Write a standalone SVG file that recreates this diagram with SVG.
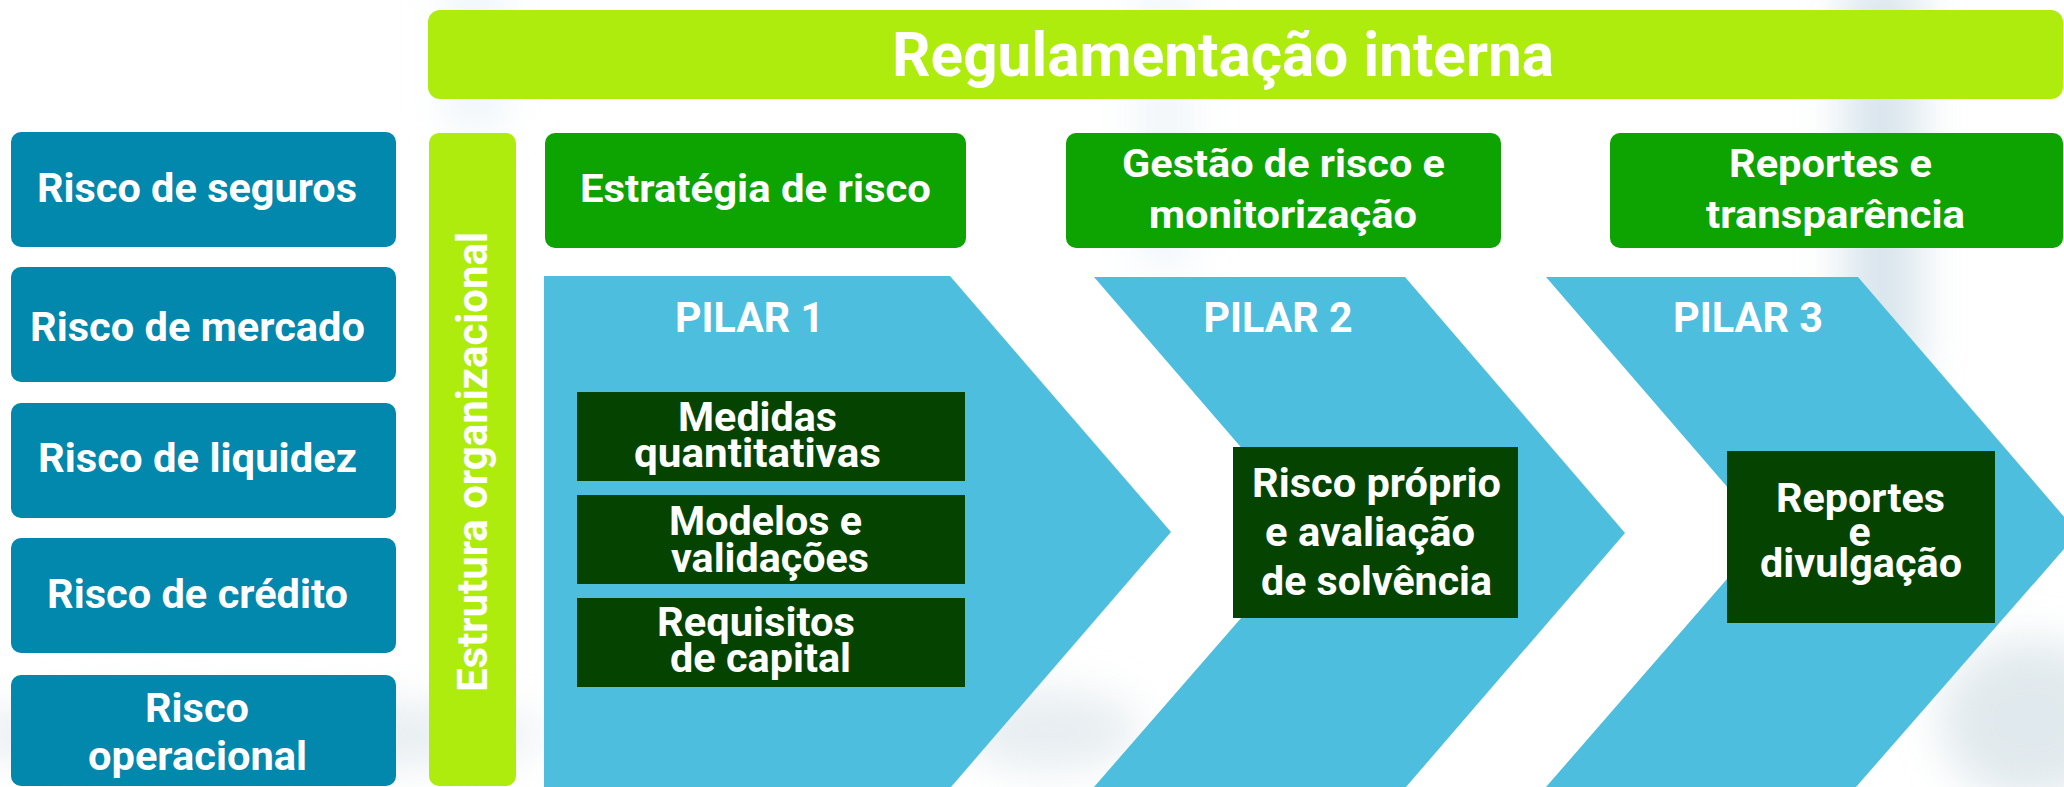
<svg xmlns="http://www.w3.org/2000/svg" width="2064" height="787" viewBox="0 0 2064 787">
  <defs>
    <filter id="blur" x="-50%" y="-50%" width="200%" height="200%">
      <feGaussianBlur stdDeviation="22"/>
    </filter>
    <style>
      text { font-family: Roboto, "Liberation Sans", Arial, sans-serif; font-weight: 700; fill: #ffffff; text-anchor: middle; }
      .risk { fill: #0287ad; }
      .bar { fill: #aeec0e; }
      .head { fill: #0da301; }
      .chev { fill: #4ebedf; }
      .dark { fill: #054400; }
      .t41 { font-size: 41px; }
      .t39 { font-size: 39px; }
      .t40 { font-size: 40px; }
      .t42 { font-size: 42px; }
    </style>
  </defs>
  <rect width="2064" height="787" fill="#ffffff"/>
  <g id="background" filter="url(#blur)" opacity="0.55">
    <rect x="450" y="-20" width="50" height="150" fill="#dcebf4"/>
    <rect x="1140" y="-20" width="50" height="290" fill="#e3eef5"/>
    <rect x="1845" y="-20" width="75" height="400" fill="#b9d0de"/>
    <ellipse cx="250" cy="735" rx="300" ry="35" fill="#d4dfe5"/>
    <ellipse cx="1050" cy="730" rx="90" ry="40" fill="#d4dfe5"/>
    <ellipse cx="2030" cy="720" rx="90" ry="80" fill="#c8d8df"/>
  </g>

  <g id="regulamentacao-interna">
    <rect class="bar" x="428" y="10" width="1635" height="89" rx="12"/>
    <text x="1223" y="76" font-size="62" textLength="662" lengthAdjust="spacingAndGlyphs">Regulamentação interna</text>
  </g>

  <g id="risco-seguros">
    <rect class="risk" x="11" y="132" width="385" height="115" rx="10"/>
    <text class="t41" x="197" y="202" textLength="320" lengthAdjust="spacingAndGlyphs">Risco de seguros</text>
  </g>
  <g id="risco-mercado">
    <rect class="risk" x="11" y="267" width="385" height="115" rx="10"/>
    <text class="t41" x="197.5" y="341" textLength="335" lengthAdjust="spacingAndGlyphs">Risco de mercado</text>
  </g>
  <g id="risco-liquidez">
    <rect class="risk" x="11" y="403" width="385" height="115" rx="10"/>
    <text class="t41" x="197.5" y="472" textLength="319" lengthAdjust="spacingAndGlyphs">Risco de liquidez</text>
  </g>
  <g id="risco-credito">
    <rect class="risk" x="11" y="538" width="385" height="115" rx="10"/>
    <text class="t41" x="197.5" y="608" textLength="301" lengthAdjust="spacingAndGlyphs">Risco de crédito</text>
  </g>
  <g id="risco-operacional">
    <rect class="risk" x="11" y="675" width="385" height="111" rx="10"/>
    <text class="t41" x="197" y="722" textLength="104" lengthAdjust="spacingAndGlyphs">Risco</text>
    <text class="t41" x="197.5" y="770" textLength="219" lengthAdjust="spacingAndGlyphs">operacional</text>
  </g>

  <g id="estrutura-organizacional">
    <rect class="bar" x="429" y="133" width="87" height="653" rx="10"/>
    <text transform="translate(486.5,692) rotate(-90)" x="0" y="0" font-size="43" style="text-anchor:start" textLength="460" lengthAdjust="spacingAndGlyphs">Estrutura organizacional</text>
  </g>

  <g id="estrategia-de-risco">
    <rect class="head" x="545" y="133" width="421" height="115" rx="10"/>
    <text class="t39" x="755.5" y="202" textLength="351" lengthAdjust="spacingAndGlyphs">Estratégia de risco</text>
  </g>
  <g id="gestao-de-risco">
    <rect class="head" x="1066" y="133" width="435" height="115" rx="10"/>
    <text class="t39" x="1283.5" y="177" textLength="323" lengthAdjust="spacingAndGlyphs">Gestão de risco e</text>
    <text class="t39" x="1283" y="228" textLength="268" lengthAdjust="spacingAndGlyphs">monitorização</text>
  </g>
  <g id="reportes-transparencia">
    <rect class="head" x="1610" y="133" width="453" height="115" rx="10"/>
    <text class="t39" x="1830.5" y="177" textLength="203" lengthAdjust="spacingAndGlyphs">Reportes e</text>
    <text class="t39" x="1835.5" y="228" textLength="259" lengthAdjust="spacingAndGlyphs">transparência</text>
  </g>

  <g id="pilar-1">
    <polygon class="chev" points="544,276 950,276 1171,532 951,787 544,787"/>
    <text class="t42" x="749.5" y="332" textLength="149" lengthAdjust="spacingAndGlyphs">PILAR 1</text>
  </g>
  <g id="pilar-2">
    <polygon class="chev" points="1094,277 1405,277 1625,533 1406,787 1094,787 1315,533"/>
    <text class="t42" x="1278" y="332" textLength="149" lengthAdjust="spacingAndGlyphs">PILAR 2</text>
  </g>
  <g id="pilar-3">
    <polygon class="chev" points="1546,277 1858,277 2078,533 1856,787 1546,787 1767,533"/>
    <text class="t42" x="1748" y="332" textLength="150" lengthAdjust="spacingAndGlyphs">PILAR 3</text>
  </g>

  <g id="medidas-quantitativas">
    <rect class="dark" x="577" y="392" width="388" height="89"/>
    <text class="t40" x="757.5" y="431" textLength="159" lengthAdjust="spacingAndGlyphs">Medidas</text>
    <text class="t40" x="757.5" y="467" textLength="247" lengthAdjust="spacingAndGlyphs">quantitativas</text>
  </g>
  <g id="modelos-validacoes">
    <rect class="dark" x="577" y="495" width="388" height="89"/>
    <text class="t40" x="765.5" y="535" textLength="193" lengthAdjust="spacingAndGlyphs">Modelos e</text>
    <text class="t40" x="770" y="572" textLength="198" lengthAdjust="spacingAndGlyphs">validações</text>
  </g>
  <g id="requisitos-capital">
    <rect class="dark" x="577" y="598" width="388" height="89"/>
    <text class="t40" x="756" y="636" textLength="198" lengthAdjust="spacingAndGlyphs">Requisitos</text>
    <text class="t40" x="760.5" y="672" textLength="181" lengthAdjust="spacingAndGlyphs">de capital</text>
  </g>
  <g id="risco-proprio">
    <rect class="dark" x="1233" y="447" width="285" height="171"/>
    <text class="t41" x="1376.5" y="497" textLength="249" lengthAdjust="spacingAndGlyphs">Risco próprio</text>
    <text class="t41" x="1370" y="546" textLength="210" lengthAdjust="spacingAndGlyphs">e avaliação</text>
    <text class="t41" x="1376.5" y="595" textLength="231" lengthAdjust="spacingAndGlyphs">de solvência</text>
  </g>
  <g id="reportes-divulgacao">
    <rect class="dark" x="1727" y="451" width="268" height="172"/>
    <text class="t41" x="1860.5" y="512" textLength="169" lengthAdjust="spacingAndGlyphs">Reportes</text>
    <text class="t41" x="1859.5" y="546">e</text>
    <text class="t41" x="1861" y="577" textLength="202" lengthAdjust="spacingAndGlyphs">divulgação</text>
  </g>
  <g id="connectors"/>
</svg>
